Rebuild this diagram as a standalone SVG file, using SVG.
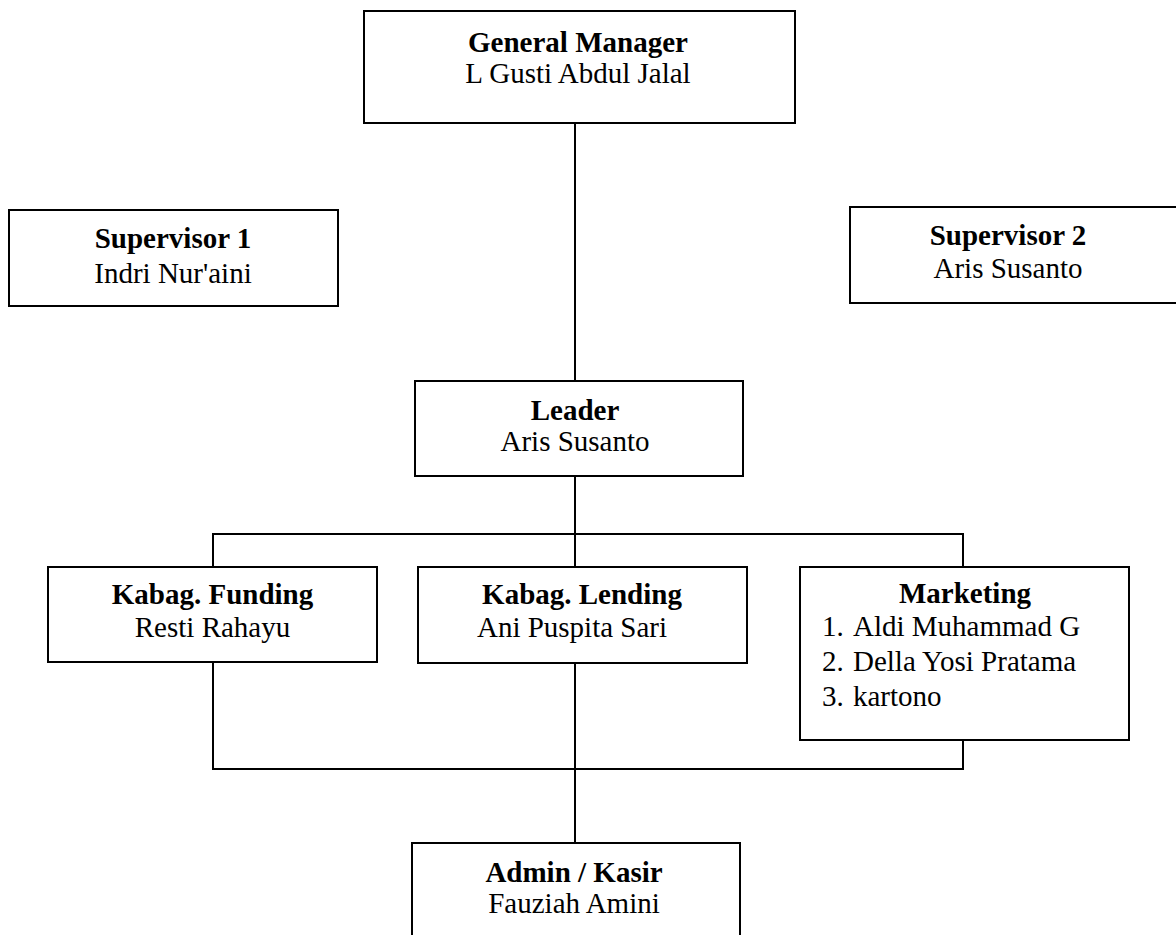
<svg xmlns="http://www.w3.org/2000/svg" width="1176" height="935" viewBox="0 0 1176 935">
<style>
.box{fill:#fff;stroke:#000;stroke-width:2}
.ln{fill:none;stroke:#000;stroke-width:2}
.t{font-family:"Liberation Serif","Times New Roman",serif;font-size:29px;fill:#000}
.b{font-weight:bold}
.c{text-anchor:middle}
</style>
<rect width="1176" height="935" fill="#fff"/>
<g id="connectors">
<path class="ln" d="M575 123V381"/>
<path class="ln" d="M575 476V567"/>
<path class="ln" d="M213 567V534H963V567"/>
<path class="ln" d="M213 662V769H963V740"/>
<path class="ln" d="M575 663V843"/>
</g>
<g id="gm">
<rect class="box" x="364" y="11" width="431" height="112"/>
<text class="t b c" x="578" y="52">General Manager</text>
<text class="t c" x="578" y="83">L Gusti Abdul Jalal</text>
</g>
<g id="sup1">
<rect class="box" x="9" y="210" width="329" height="96"/>
<text class="t b c" x="173" y="248">Supervisor 1</text>
<text class="t c" x="173" y="283">Indri Nur'aini</text>
</g>
<g id="sup2">
<rect class="box" x="850" y="207" width="340" height="96"/>
<text class="t b c" x="1008" y="245">Supervisor 2</text>
<text class="t c" x="1008" y="278">Aris Susanto</text>
</g>
<g id="leader">
<rect class="box" x="415" y="381" width="328" height="95"/>
<text class="t b c" x="575" y="420">Leader</text>
<text class="t c" x="575" y="451">Aris Susanto</text>
</g>
<g id="funding">
<rect class="box" x="48" y="567" width="329" height="95"/>
<text class="t b c" x="212.5" y="604">Kabag. Funding</text>
<text class="t c" x="212.5" y="637">Resti Rahayu</text>
</g>
<g id="lending">
<rect class="box" x="418" y="567" width="329" height="96"/>
<text class="t b c" x="582" y="604">Kabag. Lending</text>
<text class="t c" x="572" y="637">Ani Puspita Sari</text>
</g>
<g id="marketing">
<rect class="box" x="800" y="567" width="329" height="173"/>
<text class="t b c" x="965" y="603">Marketing</text>
<text class="t" x="822" y="636">1.</text>
<text class="t" x="853" y="636">Aldi Muhammad G</text>
<text class="t" x="822" y="671">2.</text>
<text class="t" x="853" y="671">Della Yosi Pratama</text>
<text class="t" x="822" y="706">3.</text>
<text class="t" x="853" y="706">kartono</text>
</g>
<g id="admin">
<rect class="box" x="412" y="843" width="328" height="110"/>
<text class="t b c" x="574" y="882">Admin / Kasir</text>
<text class="t c" x="574" y="913">Fauziah Amini</text>
</g>
</svg>
